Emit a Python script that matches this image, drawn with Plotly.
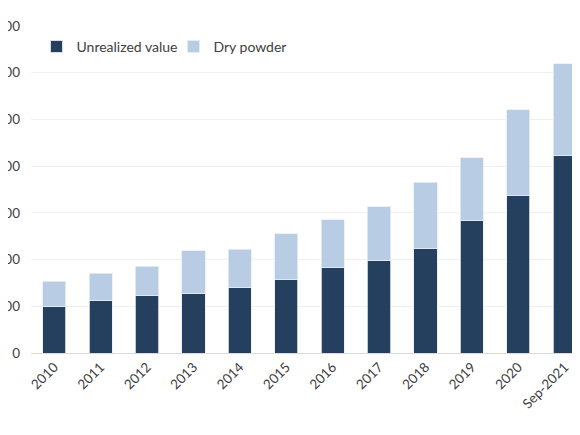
import plotly.graph_objects as go

years = ["2010", "2011", "2012", "2013", "2014", "2015", "2016",
         "2017", "2018", "2019", "2020", "Sep-2021"]
unrealized_value = [200, 223, 246, 254, 282, 313, 366, 397, 446, 567, 676, 844]
dry_powder = [108, 118, 125, 183, 162, 198, 205, 230, 286, 269, 365, 395]

y_ticks = [0, 200, 400, 600, 800, 1000, 1200, 1400]

fig = go.Figure()
fig.add_trace(go.Bar(
    x=years, y=unrealized_value, name="Unrealized value",
    marker=dict(color="#253f5f", line=dict(color="#e8eef6", width=0.8)),
))
fig.add_trace(go.Bar(
    x=years, y=dry_powder, name="Dry powder",
    marker=dict(color="#b8cce4", line=dict(color="#e8eef6", width=0.8)),
))

# page body adds 8px, so margins are set 8px smaller on the left/top
fig.update_layout(
    barmode="stack",
    bargap=0.5,
    width=580, height=435,
    margin=dict(l=23, r=8, t=18, b=90),
    paper_bgcolor="white", plot_bgcolor="white",
    font=dict(family="Lato, 'Open Sans', sans-serif", size=13, color="#404040"),
    legend=dict(
        orientation="h", x=0.01, y=0.985, xanchor="left", yanchor="top",
        font=dict(size=14, color="#404040"), entrywidth=92,
        traceorder="normal", bgcolor="rgba(0,0,0,0)",
    ),
    showlegend=True,
)
fig.update_xaxes(
    range=[-0.5, 11.33], tickangle=-45, automargin=False,
    showline=True, linecolor="#d9d9d9", linewidth=1,
    showgrid=False, ticks="",
    tickfont=dict(size=13.5, color="#404040"),
)
fig.update_yaxes(
    range=[0, 1400], tickvals=y_ticks, tickformat=",",
    automargin=False, showgrid=True, gridcolor="#f0f0f0", gridwidth=1,
    zeroline=False, ticks="", ticklabelstandoff=10,
    tickfont=dict(size=13.5, color="#404040"),
)

fig.write_html("out.html")
